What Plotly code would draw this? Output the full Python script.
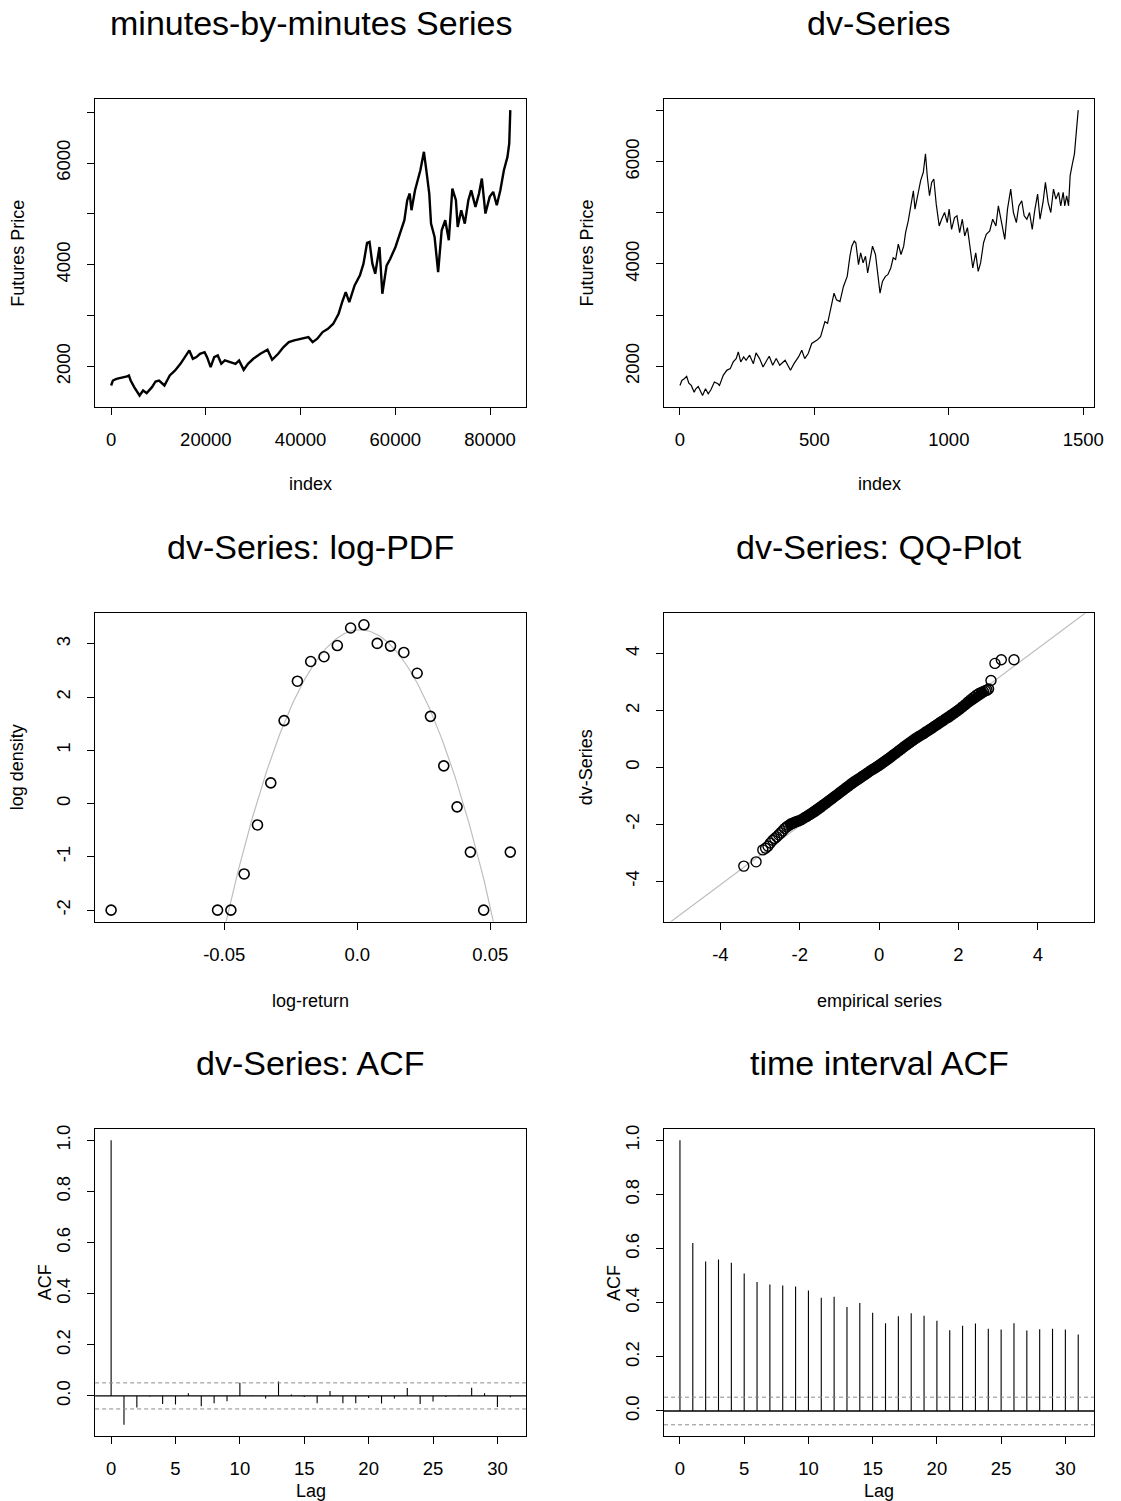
import math
import plotly.graph_objects as go

W, H = 1121, 1501
FONT = "Liberation Sans, Arial, Helvetica, sans-serif"

# ---------------- data ----------------
minute_index = [0, 375, 1126, 2251, 3377, 3752, 4128, 4878, 6004, 6754, 7505, 8631, 9381, 10131, 11257,
                12383, 13509, 14635, 15385, 16511, 17261, 18012, 18762, 19737, 20263, 21013, 21764, 22514,
                23265, 24015, 25141, 26267, 27017, 27993, 28893, 30019, 31520, 33021, 33998, 35273, 36398,
                37524, 38650, 40150, 41651, 42552, 43528, 44654, 45780, 46905, 48031, 48782, 49532, 50283,
                51408, 52534, 53285, 54035, 54560, 55160, 55761, 56661, 57262, 58162, 58913, 60038, 61164,
                61915, 62515, 63040, 63415, 64165, 65291, 66041, 66642, 67167, 67542, 68293, 69043, 69794,
                70544, 71295, 72045, 72796, 73171, 73921, 74672, 75422, 76023, 76923, 77674, 78274, 79024,
                79925, 80675, 81426, 82176, 82927, 83677, 84053, 84278]
minute_price = [1626, 1724, 1757, 1777, 1803, 1823, 1724, 1593, 1429, 1528, 1475, 1593, 1705, 1724, 1626,
                1823, 1921, 2052, 2151, 2315, 2151, 2184, 2249, 2282, 2184, 1987, 2184, 2217,
                2052, 2118, 2085, 2052, 2118, 1934, 2052, 2151, 2249, 2328, 2131, 2249, 2381,
                2479, 2512, 2545, 2577, 2479, 2545, 2676, 2741, 2840, 3037, 3266, 3463, 3266,
                3594, 3791, 4021, 4428, 4448, 4021, 3824, 4349, 3430, 3982, 4113, 4349, 4678,
                4875, 5268, 5400, 5072, 5465, 5858, 6220, 5793, 5400, 4809, 4547, 3856, 4678,
                4875, 4481, 5498, 5268, 4744, 5072, 4809, 5268, 5465, 5137, 5400, 5695, 5006,
                5334, 5432, 5170, 5465, 5858, 6120, 6383, 7039]

dv_index = [0, 7, 16, 25, 33, 42, 53, 59, 68, 75, 84, 95, 105, 115, 128, 141, 147, 161, 174, 187, 198, 209,
            217, 226, 237, 246, 259, 273, 283, 296, 309, 323, 332, 345, 358, 371, 391, 411, 424, 441, 453,
            464, 477, 490, 510, 523, 539, 549, 562, 573, 582, 595, 608, 622, 632, 639, 648, 654, 664, 672,
            681, 690, 698, 707, 716, 727, 736, 744, 753, 764, 773, 784, 793, 802, 812, 822, 832, 839, 849,
            859, 868, 874, 885, 895, 905, 913, 920, 928, 936, 944, 953, 964, 973, 984, 994, 1001, 1010,
            1021, 1030, 1040, 1050, 1059, 1069, 1078, 1089, 1100, 1109, 1118, 1129, 1139, 1152, 1163, 1175,
            1184, 1194, 1208, 1218, 1230, 1240, 1251, 1260, 1271, 1280, 1290, 1300, 1310, 1319, 1330, 1339,
            1350, 1359, 1369, 1379, 1389, 1398, 1408, 1416, 1425, 1431, 1438, 1445, 1451, 1458, 1467, 1475,
            1481]
dv_price = [1626, 1724, 1757, 1803, 1672, 1626, 1495, 1560, 1606, 1528, 1429, 1560, 1462, 1541, 1692, 1659,
            1626, 1823, 1921, 1954, 2085, 2151, 2282, 2085, 2184, 2118, 2217, 2052, 2262, 2151, 1987, 2118,
            2197, 2020, 2151, 2020, 2118, 1921, 2052, 2184, 2315, 2151, 2249, 2446, 2512, 2577, 2873, 2840,
            3201, 3430, 3299, 3266, 3561, 3758, 4152, 4349, 4448, 4416, 3988, 4219, 4021, 4152, 3824, 4121,
            4349, 4186, 3824, 3430, 3660, 3758, 3791, 3922, 4121, 4088, 4387, 4186, 4349, 4612, 4842, 5203,
            5432, 5072, 5400, 5629, 5793, 6154, 5695, 5334, 5596, 5662, 5170, 4744, 4875, 5006, 4809, 5072,
            4678, 4908, 4941, 4612, 4875, 4547, 4711, 4317, 3922, 4219, 3856, 4021, 4416, 4580, 4645, 4875,
            4744, 5137, 4842, 4481, 5072, 5465, 5006, 4809, 5137, 5236, 4941, 4875, 5006, 4678, 5039, 5367,
            4875, 5203, 5596, 5203, 5006, 5465, 5268, 5400, 5137, 5400, 5137, 5334, 5137, 5727, 5924, 6154,
            6646, 7007]

pdf_x = [-0.0925, -0.0525, -0.0475, -0.0425, -0.0375, -0.0325, -0.0275, -0.0225, -0.0175, -0.0125, -0.0075,
         -0.0025, 0.0025, 0.0075, 0.0125, 0.0175, 0.0225, 0.0275, 0.0325, 0.0375, 0.0425, 0.0475, 0.0575]
pdf_logd = [-2.00, -2.00, -2.00, -1.32, -0.40, 0.39, 1.56, 2.30, 2.67, 2.76, 2.97,
            3.30, 3.36, 3.01, 2.96, 2.84, 2.45, 1.64, 0.71, -0.06, -0.91, -2.00, -0.91]
fit_mean = 0.0010
fit_sd = 0.0152

qq_x = [-3.41, -3.10, -2.93, -2.86, -2.80, -2.74, -2.68, -2.63, -2.58, -2.53, -2.48, -2.43, -2.38, -2.33,
        -2.28, -2.23, -2.18, -2.13, -2.08, -2.03,
        -1.96, -1.89, -1.82, -1.75, -1.68, -1.61, -1.54, -1.47, -1.40, -1.33, -1.26, -1.19, -1.12, -1.05,
        -0.98, -0.91, -0.84, -0.77, -0.70, -0.63, -0.56, -0.49, -0.42, -0.35, -0.28, -0.21, -0.14, -0.07,
        0.00, 0.07, 0.14, 0.21, 0.28, 0.35, 0.42, 0.49, 0.56, 0.63, 0.70, 0.77, 0.84, 0.91, 0.98, 1.05,
        1.12, 1.19, 1.26, 1.33, 1.40, 1.47, 1.54, 1.61, 1.68, 1.75, 1.82, 1.89, 1.96, 2.03, 2.10, 2.17,
        2.24, 2.31, 2.38, 2.45, 2.52, 2.58, 2.63, 2.68, 2.72, 2.76,
        2.82, 2.92, 3.08, 3.40]
qq_y = [-3.47, -3.32, -2.90, -2.84, -2.77, -2.66, -2.56, -2.50, -2.44, -2.37, -2.30, -2.23, -2.15, -2.09,
        -2.04, -1.99, -1.96, -1.93, -1.90, -1.88,
        -1.84, -1.78, -1.72, -1.66, -1.60, -1.54, -1.47, -1.40, -1.32, -1.25, -1.17, -1.10, -1.02, -0.95,
        -0.87, -0.80, -0.72, -0.65, -0.57, -0.50, -0.44, -0.38, -0.31, -0.25, -0.18, -0.11, -0.05, 0.01,
        0.07, 0.14, 0.21, 0.28, 0.35, 0.43, 0.50, 0.58, 0.65, 0.73, 0.80, 0.87, 0.94, 1.01, 1.07, 1.13,
        1.19, 1.26, 1.32, 1.38, 1.45, 1.51, 1.58, 1.64, 1.71, 1.77, 1.84, 1.91, 1.98, 2.05, 2.13, 2.21,
        2.30, 2.38, 2.46, 2.54, 2.60, 2.64, 2.67, 2.70, 2.72, 2.76,
        3.06, 3.66, 3.79, 3.79]
qq_dense_from = -2.33   # overlapping circles form a solid band between these x values
qq_dense_to = 2.72
qq_line_x = [-5.6, 5.6]
qq_line_y = [-5.79, 5.85]

lags = list(range(32))
acf_dv = [1.0, -0.113, -0.045, -0.002, -0.032, -0.034, 0.010, -0.040, -0.029, -0.021, 0.052, 0.001,
          -0.010, 0.056, 0.006, -0.004, -0.029, 0.019, -0.029, -0.029, -0.008, -0.030, -0.010, 0.031,
          -0.032, -0.022, -0.004, 0.004, 0.032, 0.010, -0.043, -0.005]
acf_interval = [1.0, 0.621, 0.552, 0.560, 0.548, 0.508, 0.477, 0.467, 0.464, 0.460, 0.445, 0.418, 0.422,
                0.384, 0.399, 0.363, 0.324, 0.350, 0.361, 0.352, 0.333, 0.298, 0.315, 0.323, 0.304,
                0.301, 0.324, 0.297, 0.302, 0.304, 0.301, 0.283]
acf_conf = 0.051

price_ticks = [2000, 3000, 4000, 5000, 6000, 7000]
price_ticktext = ["2000", "", "4000", "", "6000", ""]
minute_xticks = [0, 20000, 40000, 60000, 80000]
dv_xticks = [0, 500, 1000, 1500]
pdf_xticks = [-0.05, 0.0, 0.05]
pdf_xticktext = ["-0.05", "0.0", "0.05"]
pdf_yticks = [-2, -1, 0, 1, 2, 3]
qq_ticks = [-4, -2, 0, 2, 4]
lag_ticks = [0, 5, 10, 15, 20, 25, 30]
acf_yticks = [0.0, 0.2, 0.4, 0.6, 0.8, 1.0]
acf_yticktext = ["0.0", "0.2", "0.4", "0.6", "0.8", "1.0"]

titles = ["minutes-by-minutes Series", "dv-Series", "dv-Series: log-PDF", "dv-Series: QQ-Plot",
          "dv-Series: ACF", "time interval ACF"]
xtitles = ["index", "index", "log-return", "empirical series", "Lag", "Lag"]
ytitles = ["Futures Price", "Futures Price", "log density", "dv-Series", "ACF", "ACF"]

# ---------------- helpers ----------------
def r_range(lo, hi):
    d = (hi - lo) * 0.04
    return [lo - d, hi + d]

def stems(xs, ys):
    sx, sy = [], []
    for a, b in zip(xs, ys):
        sx += [a, a, None]
        sy += [0, b, None]
    return sx, sy

XCOL = [(96, 531), (670, 1104)]
ROWS = [(95, 404), (611, 920), (1128, 1436)]
TITLE_OFF = [76, 67, 66]
XT_OFF = [77, 80, 55]
YT_OFF = [78, 78, 51]

fig = go.Figure()

# panel 1
fig.add_trace(go.Scatter(x=minute_index, y=minute_price, mode="lines",
                         line=dict(color="black", width=2.4), xaxis="x", yaxis="y"))
# panel 2
fig.add_trace(go.Scatter(x=dv_index, y=dv_price, mode="lines",
                         line=dict(color="black", width=1.2), xaxis="x2", yaxis="y2"))
# panel 3
pdf_range_x = r_range(min(pdf_x), max(pdf_x))
n_curve = 301
cx = [pdf_range_x[0] + (pdf_range_x[1] - pdf_range_x[0]) * i / (n_curve - 1) for i in range(n_curve)]
cy = [-math.log(fit_sd * math.sqrt(2 * math.pi)) - (v - fit_mean) ** 2 / (2 * fit_sd ** 2) for v in cx]
fig.add_trace(go.Scatter(x=cx, y=cy, mode="lines", line=dict(color="#BEBEBE", width=1.2),
                         xaxis="x3", yaxis="y3"))
fig.add_trace(go.Scatter(x=pdf_x, y=pdf_logd, mode="markers",
                         marker=dict(symbol="circle-open", size=10, color="black", line=dict(width=1.6)),
                         xaxis="x3", yaxis="y3", cliponaxis=False))
# panel 4
fig.add_trace(go.Scatter(x=qq_line_x, y=qq_line_y, mode="lines", line=dict(color="#BEBEBE", width=1.2),
                         xaxis="x4", yaxis="y4"))
dense = [(a, b) for a, b in zip(qq_x, qq_y) if qq_dense_from <= a <= qq_dense_to]
fig.add_trace(go.Scatter(x=[p[0] for p in dense], y=[p[1] for p in dense], mode="lines",
                         line=dict(color="black", width=10), xaxis="x4", yaxis="y4"))
fig.add_trace(go.Scatter(x=qq_x, y=qq_y, mode="markers",
                         marker=dict(symbol="circle-open", size=10, color="black", line=dict(width=1.4)),
                         xaxis="x4", yaxis="y4"))
# panel 5 & 6
for k, vals in ((5, acf_dv), (6, acf_interval)):
    sx, sy = stems(lags, vals)
    fig.add_trace(go.Scatter(x=sx, y=sy, mode="lines", line=dict(color="black", width=1.1),
                             xaxis=f"x{k}", yaxis=f"y{k}"))
    fig.add_shape(type="line", xref=f"x{k} domain", x0=0, x1=1, yref=f"y{k}", y0=0, y1=0,
                  line=dict(color="black", width=1.3))
    for c in (acf_conf, -acf_conf):
        fig.add_shape(type="line", xref=f"x{k} domain", x0=0, x1=1, yref=f"y{k}", y0=c, y1=c,
                      line=dict(color="#8C8C8C", width=1, dash="4px,3px"))

# ---------------- axes ----------------
tickfont = dict(family=FONT, size=18.5, color="black")
common = dict(showline=True, linecolor="black", linewidth=1, mirror=True, ticks="outside", ticklen=7,
              tickwidth=1, tickcolor="black", showgrid=False, zeroline=False, tickfont=tickfont)

ranges = {
    1: (r_range(0, max(minute_index)), r_range(min(minute_price), max(minute_price))),
    2: (r_range(0, max(dv_index)), r_range(min(dv_price), max(dv_price))),
    3: (pdf_range_x, r_range(min(pdf_logd), max(pdf_logd))),
    4: ([-5.42, 5.42], [-5.42, 5.42]),
    5: (r_range(0, 31), r_range(min(min(acf_dv), -acf_conf), 1.0)),
    6: (r_range(0, 31), r_range(min(min(acf_interval), -acf_conf), 1.0)),
}
xticks = {1: (minute_xticks, [str(v) for v in minute_xticks]),
          2: (dv_xticks, [str(v) for v in dv_xticks]),
          3: (pdf_xticks, pdf_xticktext),
          4: (qq_ticks, [str(v) for v in qq_ticks]),
          5: (lag_ticks, [str(v) for v in lag_ticks]),
          6: (lag_ticks, [str(v) for v in lag_ticks])}
yticks = {1: (price_ticks, price_ticktext),
          2: (price_ticks, price_ticktext),
          3: (pdf_yticks, [str(v) for v in pdf_yticks]),
          4: (qq_ticks, [str(v) for v in qq_ticks]),
          5: (acf_yticks, acf_yticktext),
          6: (acf_yticks, acf_yticktext)}

layout = {}
annotations = []
for k in range(1, 7):
    col = (k - 1) % 2
    row = (k - 1) // 2
    x0, x1 = XCOL[col]
    top, bot = ROWS[row]
    xs = "" if k == 1 else str(k)
    layout[f"xaxis{xs}"] = dict(common, domain=[x0 / W, x1 / W], anchor=f"y{xs}", range=ranges[k][0],
                                tickvals=xticks[k][0], ticktext=xticks[k][1], ticklabelstandoff=9)
    layout[f"yaxis{xs}"] = dict(common, domain=[1 - bot / H, 1 - top / H], anchor=f"x{xs}",
                                range=ranges[k][1], tickvals=yticks[k][0], ticktext=yticks[k][1],
                                tickangle=-90, ticklabelstandoff=10)
    cx_mid = (x0 + x1) / 2
    annotations.append(dict(text=titles[k - 1], x=cx_mid / W, y=1 - (top - TITLE_OFF[row]) / H,
                            xref="paper", yref="paper", showarrow=False, xanchor="center",
                            yanchor="middle", font=dict(family=FONT, size=34, color="black")))
    annotations.append(dict(text=xtitles[k - 1], x=cx_mid / W, y=1 - (bot + XT_OFF[row]) / H,
                            xref="paper", yref="paper", showarrow=False, xanchor="center",
                            yanchor="middle", font=dict(family=FONT, size=18, color="black")))
    annotations.append(dict(text=ytitles[k - 1], x=(x0 - YT_OFF[row]) / W, y=1 - ((top + bot) / 2) / H,
                            xref="paper", yref="paper", showarrow=False, xanchor="center",
                            yanchor="middle", textangle=-90,
                            font=dict(family=FONT, size=18, color="black")))

fig.update_layout(**layout)
fig.update_layout(width=W, height=H, margin=dict(l=0, r=0, t=0, b=0), showlegend=False,
                  paper_bgcolor="white", plot_bgcolor="white", annotations=annotations,
                  font=dict(family=FONT, color="black"), hovermode=False)

fig.write_html("out.html", config={"displayModeBar": False, "staticPlot": True},
               post_script="document.body.style.margin='0';document.body.style.padding='0';"
                           "document.documentElement.style.overflow='hidden';")
